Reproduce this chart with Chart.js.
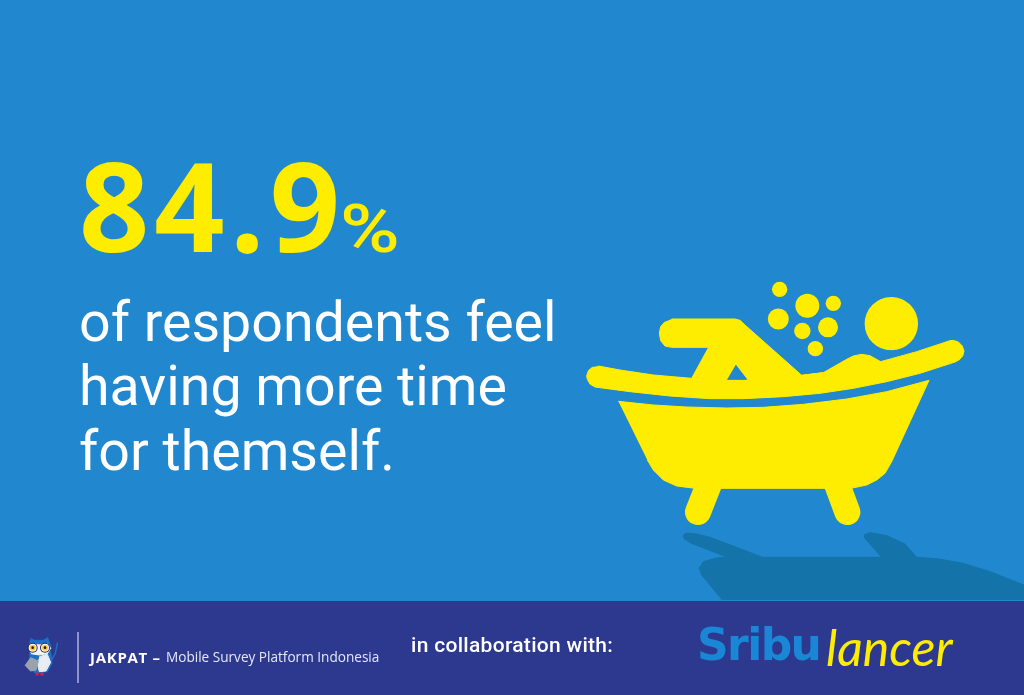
<!DOCTYPE html>
<html>
<head>
<meta charset="utf-8">
<title>84.9% of respondents</title>
<script src="https://cdn.jsdelivr.net/npm/chart.js@4"></script>
<style>
  html, body { margin: 0; padding: 0; }
  body { width: 1024px; height: 695px; background: #2187ce; overflow: hidden; position: relative; font-family: Roboto, sans-serif; }
  #band { position: absolute; left: 0; top: 601px; width: 1024px; height: 94px; background: #2d388f; }
  #chart { position: absolute; left: 0; top: 0; }
  .t { position: absolute; white-space: nowrap; line-height: 1; }
  #big { left: 79px; top: 143px; font-size: 123px; font-weight: 700; color: #ffed00; letter-spacing: 5px; font-family: "Open Sans", sans-serif; }
  #pct { left: 340px; top: 197px; font-size: 66px; font-weight: 500; color: #ffed00; transform: scaleX(1.23); transform-origin: left; }
  .line { left: 79px; font-size: 55.5px; color: #fff; }
  #l1 { top: 295px; } #l2 { top: 359px; } #l3 { top: 424px; }
  #rule { position: absolute; left: 77px; top: 632px; width: 2px; height: 51px; background: #8d93c6; }
  #jak { left: 90px; top: 650px; font-size: 15px; font-weight: 700; color: #fff; font-family: "Open Sans", sans-serif; letter-spacing: .7px; }
  #mob { left: 166px; top: 650px; font-size: 13.6px; color: #e6e8f5; font-family: "Open Sans", sans-serif; }
  #col { left: 411px; top: 635px; font-size: 21px; font-weight: 500; color: #fff; letter-spacing: .3px; }
  #sribu { left: 697px; top: 623px; font-size: 44px; font-weight: 700; color: #1a86d6; font-family: "DejaVu Sans", sans-serif; letter-spacing: -1.6px; }
  #lancer { left: 826px; top: 622px; font-size: 50px; font-style: italic; color: #ffed00; font-family: "Lato", sans-serif; }
</style>
</head>
<body>
<div id="band"></div>
<canvas id="chart" width="1024" height="695"></canvas>
<div class="t" id="big"></div>
<div class="t" id="pct">%</div>
<div class="t line" id="l1"></div>
<div class="t line" id="l2"></div>
<div class="t line" id="l3"></div>
<div id="rule"></div>
<div class="t" id="jak">JAKPAT –</div>
<div class="t" id="mob">Mobile Survey Platform Indonesia</div>
<div class="t" id="col">in collaboration with:</div>
<div class="t" id="sribu">Sribu</div>
<div class="t" id="lancer">lancer</div>

<script>
const headline = 84.9;
const captionLines = ["of respondents feel", "having more time", "for themself."];

// outlines, in drawing units (3 units = 1 px)
const shadowShape = [[457,990],[395,915],[388,895],[400,875],[440,864],[470,861],[360,818],[342,805],[340,795],[350,789],[380,792],[420,802],[578,862],[935,862],[885,805],[882,795],[900,788],[950,797],[1005,822],[1040,862],[1100,866],[1180,880],[1260,905],[1362,945],[1362,990]];
const tubShape = [[145,394],[250,405],[350,411],[470,414],[580,412],[700,403],[830,387],[950,365],[1077,331],[965,575],[945,610],[920,630],[890,645],[843,655],[375,655],[320,648],[280,630],[250,600],[232,570]];
const rimShape = [[85,288],[150,300],[250,315],[365,325],[695,316],[760,308],[932,275],[1040,245],[1140,212],[1150,211],[1165,216],[1177,228],[1182,243],[1178,258],[1168,269],[1155,276],[1050,310],[950,335],[850,355],[750,370],[640,380],[520,386],[420,386],[300,378],[180,365],[75,351],[60,342],[52,328],[50,318],[55,302],[68,291]];
const bodyShape = [[305,147],[495,147],[510,151],[525,165],[695,316],[760,308],[830,268],[850,258],[875,253],[900,257],[932,275],[932,310],[365,340],[365,325],[416,232],[305,232],[285,228],[272,212],[268,190],[272,170],[285,155]];
const holeShape = [[497,285],[530,328],[472,328]];
const legLeft = [[418,640],[384,726]];
const legRight = [[800,640],[832,726]];
const headBubble = [{x:964,y:161,r:26.7}];
const soapBubbles = [{x:629,y:58,r:7.7},{x:712,y:107,r:12},{x:790,y:100,r:7.7},{x:625,y:147,r:10.5},{x:697,y:183,r:8.2},{x:774,y:172,r:10},{x:736,y:236,r:7.7}];

// owl logo
const owlHead = [[-1618,1105],[-1608,1111],[-1580,1111],[-1567,1103],[-1560,1125],[-1558,1137],[-1624,1137],[-1624,1125]];
const owlBody = [[-1622,1145],[-1558,1145],[-1554,1180],[-1568,1205],[-1608,1207],[-1622,1180]];
const owlFace = [[-1624,1135],[-1617,1120],[-1593,1125],[-1568,1120],[-1558,1135],[-1568,1151],[-1592,1155],[-1617,1151]];
const owlBelly = [[-1592,1160],[-1568,1153],[-1558,1177],[-1572,1203],[-1592,1205],[-1598,1180]];
const owlPage = [[-1635,1187],[-1618,1163],[-1595,1173],[-1602,1200],[-1620,1203]];
const owlWing = [[-1538,1120],[-1544,1150],[-1555,1170]];
const owlFeet = [{x:-1598,y:1211,r:2},{x:-1584,y:1211,r:2}];
const owlGlasses = [{x:-1612,y:1133,r:5},{x:-1575,y:1133,r:5}];
const owlEyeWhite = [{x:-1612,y:1133,r:4},{x:-1575,y:1133,r:4}];
const owlIris = [{x:-1612,y:1133,r:3},{x:-1575,y:1133,r:3}];
const owlPupils = [{x:-1612,y:1133,r:1.3},{x:-1575,y:1133,r:1.3}];

document.getElementById("big").textContent = headline;
captionLines.forEach((s, i) => { document.getElementById("l" + (i + 1)).textContent = s; });

const pts = a => a.map(p => ({x: p[0], y: p[1]}));
const shape = (a, c) => ({type: "line", data: pts(a), showLine: true, fill: "shape", pointRadius: 0, tension: 0, borderWidth: 1, borderColor: c, backgroundColor: c});
const stroke = (a, c, w) => ({type: "line", data: pts(a), showLine: true, fill: false, pointRadius: 0, borderWidth: w, borderCapStyle: "round", borderColor: c});
const dots = (a, c) => ({type: "bubble", data: a, backgroundColor: c, borderWidth: 0});

const YELLOW = "#ffed00";

// first dataset ends up on top
new Chart(document.getElementById("chart"), {
  type: "scatter",
  data: { datasets: [
    dots(owlPupils, "#1c1c3c"),
    dots(owlIris, "#ffc928"),
    dots(owlEyeWhite, "#ffffff"),
    dots(owlGlasses, "#23254f"),
    shape(owlPage, "#9aa3ad"),
    shape(owlBelly, "#e8ecf4"),
    shape(owlFace, "#f2f4f8"),
    shape(owlHead, "#1f6fc4"),
    shape(owlBody, "#1f6fc4"),
    stroke(owlWing, "#1f6fc4", 1.5),
    dots(owlFeet, "#c8205a"),
    shape(holeShape, "#2187ce"),
    dots(headBubble, YELLOW),
    dots(soapBubbles, YELLOW),
    shape(bodyShape, YELLOW),
    shape(rimShape, YELLOW),
    shape(tubShape, YELLOW),
    stroke(legLeft, YELLOW, 26),
    stroke(legRight, YELLOW, 26),
    shape(shadowShape, "#1474aa")
  ]},
  options: {
    responsive: false,
    animation: false,
    layout: { padding: 0, autoPadding: false },
    plugins: { legend: { display: false }, tooltip: { enabled: false } },
    scales: {
      x: { type: "linear", display: false, min: -1710, max: 1362 },
      y: { type: "linear", display: false, min: -810, max: 1275, reverse: true }
    }
  }
});
</script>
</body>
</html>
